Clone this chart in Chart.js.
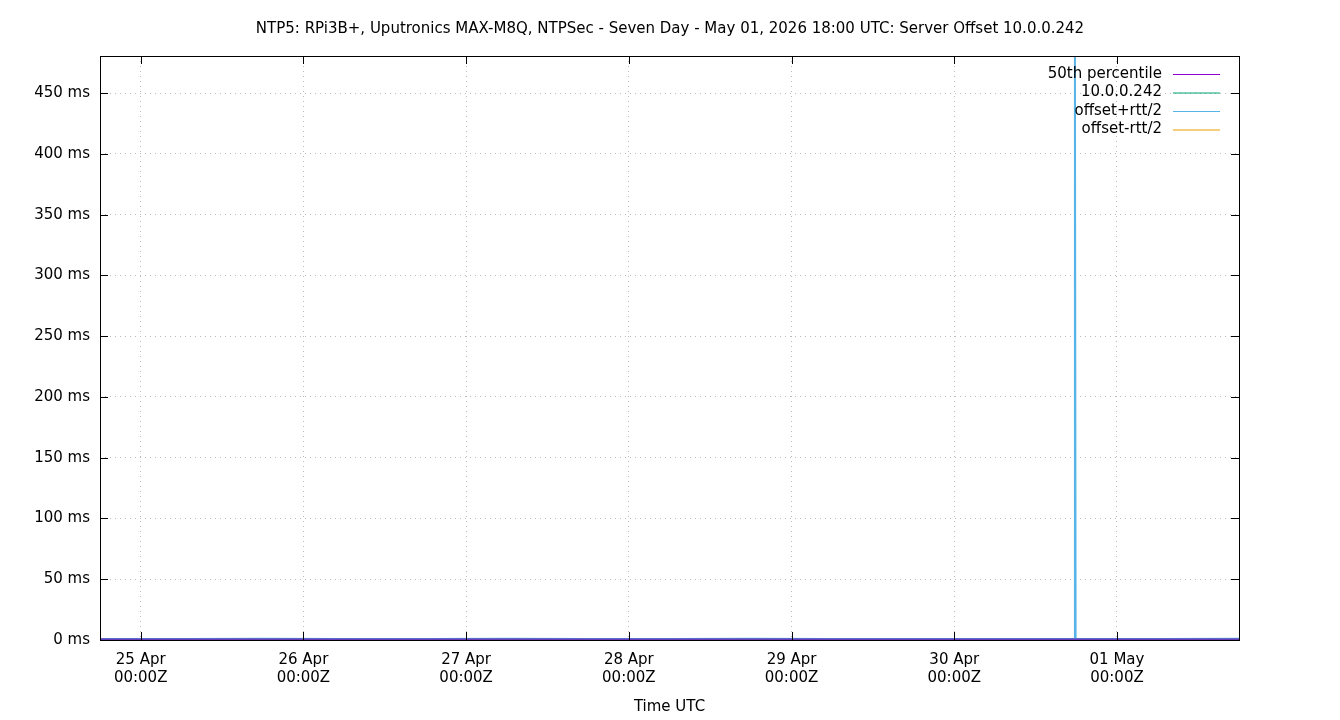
<!DOCTYPE html>
<html>
<head>
<meta charset="utf-8">
<script src="https://cdn.jsdelivr.net/npm/chart.js@4"></script>
<style>
  body { margin: 0; background: #fff; }
  canvas { display: block; }
</style>
</head>
<body>
<canvas id="chart" width="1340" height="720"></canvas>
<script>
// === Data (x = hours since 25 Apr 00:00Z, y = ms) ===
const TITLE = 'NTP5: RPi3B+, Uputronics MAX-M8Q, NTPSec - Seven Day - May 01, 2026 18:00 UTC: Server Offset 10.0.0.242';
const dayLabels = ['25 Apr', '26 Apr', '27 Apr', '28 Apr', '29 Apr', '30 Apr', '01 May'];
const hours = [-6, 6, 18, 30, 42, 54, 66, 78, 90, 102, 114, 126, 137.7, 137.8, 137.9, 150, 162];
const offsetPlus = [0.9, 0.9, 1.0, 0.8, 0.9, 1.0, 0.9, 0.9, 1.0, 0.9, 0.8, 0.9, 0.9, 485, 0.9, 0.9, 1.0];
const offsetMinus = [0.5, 0.5, 0.4, 0.5, 0.5, 0.4, 0.5, 0.5, 0.4, 0.5, 0.5, 0.5, 0.5, 0.5, 0.5, 0.5, 0.4];
const offsetVals = [0.7, 0.7, 0.7, 0.7, 0.7, 0.7, 0.7, 0.7, 0.7, 0.7, 0.7, 0.7, 0.7, 0.7, 0.7, 0.7, 0.7];
const p50 = [0.7, 0.7];
const p50x = [-6, 162];

const FONT = 'DejaVu Sans';

function pts(xs, ys) {
    return xs.map((x, i) => ({ x, y: ys[i] }));
}

// gnuplot-style key, top right, text right-aligned before the sample line
const legendPlugin = {
    id: 'gpLegend',
    afterDraw(chart) {
        const ctx = chart.ctx;
        ctx.save();
        ctx.font = `15px "${FONT}"`;
        ctx.textAlign = 'right';
        ctx.textBaseline = 'middle';
        chart.data.datasets.forEach((ds, i) => {
            const y = 74 + i * 18.5;
            ctx.fillStyle = '#000';
            ctx.fillText(ds.label, 1162, y);
            ctx.strokeStyle = ds.borderColor;
            ctx.lineWidth = 1;
            ctx.beginPath();
            ctx.moveTo(1173, y + 0.5);
            ctx.lineTo(1220, y + 0.5);
            ctx.stroke();
        });
        ctx.restore();
    }
};

// title centred on the page, frame and inward tick marks
const framePlugin = {
    id: 'frame',
    afterDraw(c) {
        const a = c.chartArea, g = c.ctx;
        g.save();
        g.fillStyle = '#000';
        g.font = `15px "${FONT}"`;
        g.textAlign = 'center';
        g.textBaseline = 'middle';
        g.fillText(TITLE, 670, 29);
        g.strokeStyle = '#000';
        g.lineWidth = 1;
        g.strokeRect(a.left + 0.5, a.top + 0.5, a.right - a.left, a.bottom - a.top);
        g.beginPath();
        c.scales.x.ticks.forEach(t => {
            const x = Math.round(c.scales.x.getPixelForValue(t.value)) + 0.5;
            g.moveTo(x, a.bottom); g.lineTo(x, a.bottom - 8);
            g.moveTo(x, a.top); g.lineTo(x, a.top + 8);
        });
        c.scales.y.ticks.forEach(t => {
            const y = Math.round(c.scales.y.getPixelForValue(t.value)) + 0.5;
            g.moveTo(a.left, y); g.lineTo(a.left + 8, y);
            g.moveTo(a.right, y); g.lineTo(a.right - 8, y);
        });
        g.stroke();
        g.restore();
    }
};

const ctx = document.getElementById('chart').getContext('2d');
new Chart(ctx, {
    type: 'line',
    data: {
        datasets: [
            { label: '50th percentile', data: pts(p50x, p50), borderColor: '#9400d3' },
            { label: '10.0.0.242', data: pts(hours, offsetVals), borderColor: '#009e73' },
            { label: 'offset+rtt/2', data: pts(hours, offsetPlus), borderColor: '#56b4e9', borderWidth: 2 },
            { label: 'offset-rtt/2', data: pts(hours, offsetMinus), borderColor: '#e69f00', borderWidth: 3 }
        ]
    },
    options: {
        responsive: false,
        animation: false,
        devicePixelRatio: 1,
        layout: { padding: { top: 56, right: 101, left: 0, bottom: 0 } },
        elements: { point: { radius: 0 }, line: { borderWidth: 1, tension: 0 } },
        plugins: {
            legend: { display: false },
            tooltip: { enabled: false },
            title: { display: false }
        },
        scales: {
            x: {
                type: 'linear',
                min: -6,
                max: 162,
                afterBuildTicks: axis => {
                    axis.ticks = dayLabels.map((_, i) => ({ value: i * 24 }));
                },
                afterFit: axis => { axis.height = 80; },
                ticks: {
                    color: '#000',
                    font: { family: FONT, size: 15 },
                    maxRotation: 0,
                    padding: 11,
                    callback: v => [dayLabels[v / 24], '00:00Z']
                },
                grid: { color: '#bbbbbb', drawTicks: false },
                border: { display: false, dash: [1, 4] },
                title: {
                    display: true,
                    text: 'Time UTC',
                    color: '#000',
                    font: { family: FONT, size: 15 },
                    padding: { top: 4 }
                }
            },
            y: {
                min: 0,
                max: 480.5,
                afterBuildTicks: axis => {
                    const t = [];
                    for (let v = 0; v <= 450; v += 50) t.push({ value: v });
                    axis.ticks = t;
                },
                afterFit: axis => { axis.width = 100; },
                ticks: {
                    color: '#000',
                    font: { family: FONT, size: 15 },
                    padding: 10,
                    callback: v => `${v} ms`
                },
                grid: { color: '#bbbbbb', drawTicks: false },
                border: { display: false, dash: [1, 4] }
            }
        }
    },
    plugins: [legendPlugin, framePlugin]
});
</script>
</body>
</html>
